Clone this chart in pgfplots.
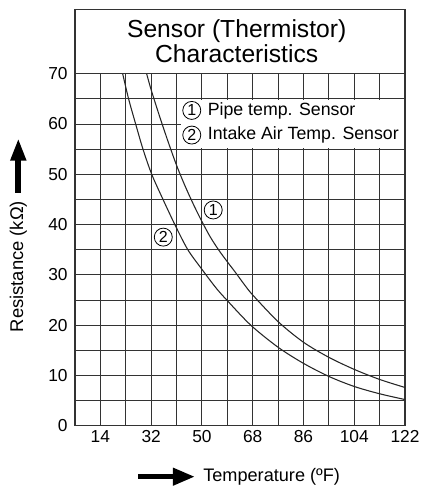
\documentclass[border=0pt]{standalone}
\usepackage{pgfplots}
\pgfplotsset{compat=1.18}
\usepackage{fontspec}
\setmainfont{Liberation Sans}
\usetikzlibrary{arrows.meta}

\pgfplotstableread{
T R
30.4 70
32 66.8
35 61.5
38 56.5
41 51.8
44 47.7
47 44.0
50 40.6
53 37.5
56 34.9
59 32.6
62 30.4
65 28.1
68 26.0
77 20.7
86 16.6
95 13.6
104 11.2
113 9.2
122 7.6
}\pipe

\pgfplotstableread{
T R
21.9 70
24.0 65
26.5 60
29.1 55
32.2 50
36.2 45
40.4 40
45.0 35
50 31.1
55 27.4
58.8 25
67.3 20
77 15.6
86 12.4
95 9.8
104 7.8
113 6.35
122 5.2
}\intake

\tikzset{circnum/.style={circle, draw, line width=0.6pt, inner sep=0pt, minimum size=13.5pt, fill=white, font=\fontsize{12}{12}\selectfont}}

\begin{document}
\begin{tikzpicture}
\begin{axis}[
 scale only axis, width=247.5pt, height=264pt,
 xmin=5, xmax=122, ymin=0, ymax=70,
 xtick={5,14,...,122}, xticklabels={,14,,32,,50,,68,,86,,104,,122},
 ytick={0,5,...,70}, yticklabels={0,,10,,20,,30,,40,,50,,60,,70},
 grid=major, major grid style={black!80, line width=0.7pt},
 major tick length=0pt,
 axis line style={black!80, line width=1.1pt},
 /pgf/number format/assume math mode=true,
 tick label style={font=\fontsize{13}{13}\selectfont},
 yticklabel style={xshift=-2pt},
 xlabel={Temperature (ºF)},
 xlabel style={at={(axis description cs:0.388,-0.145)}, anchor=west, font=\fontsize{13.6}{13.6}\selectfont, inner sep=0pt},
 ylabel={Resistance (kΩ)},
 ylabel style={at={(axis description cs:-0.172,0.452)}, anchor=center, font=\fontsize{13.8}{13.8}\selectfont, inner sep=0pt},
 clip=false,
]
\path (rel axis cs:-0.2273,-0.177) rectangle (rel axis cs:1.0303,1.2094);
\addplot[smooth, black!85, line width=0.8pt] table[x=T, y=R] {\pipe};
\addplot[smooth, black!85, line width=0.8pt] table[x=T, y=R] {\intake};

% title box
\draw[black!80, line width=1.1pt] (rel axis cs:0,1) rectangle (rel axis cs:1,1.183);
\node[align=center, font=\fontsize{18.5}{18.75}\selectfont] at (rel axis cs:0.49,1.0915) {Sensor (Thermistor)\\Characteristics};

% legend
\fill[white] (axis cs:42.5,55.3) rectangle (axis cs:121.6,64.7);
\node[circnum] at (axis cs:46.4,62.7) {1};
\node[anchor=west, font=\fontsize{13.3}{13.3}\selectfont, inner sep=0pt] at (axis cs:52.0,62.7) {Pipe temp. Sensor};
\node[circnum] at (axis cs:46.4,57.8) {2};
\node[anchor=west, font=\fontsize{13.3}{13.3}\selectfont, inner sep=0pt] at (axis cs:52.0,57.8) {Intake Air Temp. Sensor};

% curve labels
\node[circnum] at (axis cs:54.0,42.9) {1};
\node[circnum] at (axis cs:36.3,37.5) {2};

% arrows
\draw[line width=4.3pt, -{Triangle[length=17pt,width=11pt]}] (axis cs:-15.1,46.3) -- (axis cs:-15.1,57.2);
\draw[line width=3.8pt, -{Triangle[length=16.5pt,width=12.5pt]}] (axis cs:27.4,-10.14) -- (axis cs:47.5,-10.14);
\end{axis}
\end{tikzpicture}
\end{document}
